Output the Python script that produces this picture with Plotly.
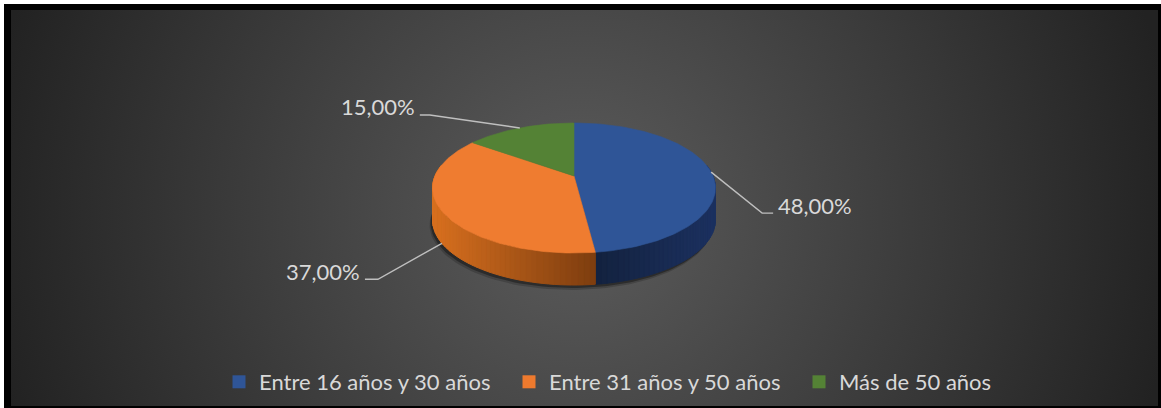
import base64
import numpy as np
import plotly.graph_objects as go

# ---------------- data ----------------
categories = ["Entre 16 años y 30 años", "Entre 31 años y 50 años", "Más de 50 años"]
values = [48.0, 37.0, 15.0]

# ---------------- style ----------------
W, H = 1161, 408
top_colors = ["#2f5597", "#ef7c30", "#548235"]
side_light = ["#13223f", "#d8701f", "#3c6025"]
side_dark = ["#1c3160", "#7d3d0f", "#2a4519"]
legend_colors = ["#2f5597", "#ee7a2e", "#548235"]
text_color = "#d9d9d9"
line_color = "#bfbfbf"
FONT = "Lato"

# pie projection (perspective-tilted disc)
CX, CY0 = 574.0, 176.0
A, B, Q = 139.0, 62.8, 0.1847
D = 32.0
# label leader geometry: (elbow dx, elbow dy, horizontal tail)
label_offsets = [(51, 41, 11), (-64, 36, -13), (-90, -13, -10)]


def proj(theta_deg, dy=0.0, dx=0.0):
    t = np.radians(np.asarray(theta_deg, dtype=float))
    u = np.sin(t)
    v = -np.cos(t)
    den = 1 - Q * v
    return CX + A * u / den + dx, CY0 + B * v / den + dy


def lerp_color(c1, c2, t):
    t = min(max(t, 0.0), 1.0)
    a = [int(c1[i:i + 2], 16) for i in (1, 3, 5)]
    b = [int(c2[i:i + 2], 16) for i in (1, 3, 5)]
    return "#" + "".join(f"{int(round(a[k] + (b[k] - a[k]) * t)):02x}" for k in range(3))


total = sum(values)
bounds = np.concatenate([[0.0], np.cumsum(values) / total * 360.0])

fig = go.Figure()

# soft shadow under the pie
full = np.linspace(0, 360, 181)
for (ox, oy, op) in [(-3, 5, 0.18), (-2, 3, 0.35)]:
    sx, sy = proj(full, dy=D + oy, dx=ox)
    fig.add_trace(go.Scatter(x=sx, y=sy, mode="lines", fill="toself",
                             fillcolor=f"rgba(0,0,0,{op})", line=dict(width=0),
                             hoverinfo="skip", showlegend=False))

# side walls (front part only)
for i in range(len(values)):
    s, e = max(bounds[i], 80.0), min(bounds[i + 1], 280.0)
    if e <= s:
        continue
    xs_all, _ = proj(np.linspace(s, e, 50))
    xL, xR = xs_all.min(), xs_all.max()
    n = int(np.ceil((e - s) / 2.0))
    edges = np.linspace(s, e, n + 1)
    for k in range(n):
        th = np.linspace(edges[k], edges[k + 1], 4)
        tx, ty = proj(th)
        bx, by = proj(th[::-1], dy=D)
        xm = float(np.mean(tx))
        t = (xm - xL) / (xR - xL)
        col = lerp_color(side_light[i], side_dark[i], t)
        fig.add_trace(go.Scatter(x=np.concatenate([tx, bx, tx[:1]]),
                                 y=np.concatenate([ty, by, ty[:1]]),
                                 mode="lines", fill="toself", fillcolor=col,
                                 line=dict(color=col, width=1),
                                 hoverinfo="skip", showlegend=False))

# top faces
for i in range(len(values)):
    th = np.linspace(bounds[i], bounds[i + 1], 120)
    tx, ty = proj(th)
    fig.add_trace(go.Scatter(x=np.concatenate([[CX], tx, [CX]]),
                             y=np.concatenate([[CY0], ty, [CY0]]),
                             mode="lines", fill="toself", fillcolor=top_colors[i],
                             line=dict(color=top_colors[i], width=0.6),
                             hoverinfo="skip", showlegend=False))

# data labels with leader lines
annotations = []
for i, v in enumerate(values):
    mid = (bounds[i] + bounds[i + 1]) / 2.0
    ax, ay = proj(mid)
    if -np.cos(np.radians(mid)) > 0:
        ay = ay + D
    edx, edy, tail = label_offsets[i]
    ex, ey = ax + edx, ay + edy
    tx = ex + tail
    fig.add_trace(go.Scatter(x=[ax, ex, tx], y=[ay, ey, ey], mode="lines",
                             line=dict(color=line_color, width=1.4),
                             hoverinfo="skip", showlegend=False))
    label = f"{v:.2f}%".replace(".", ",")
    annotations.append(dict(x=tx + (3 if tail > 0 else -3), y=ey - 8, xref="x", yref="y",
                            text=label, showarrow=False,
                            xanchor="left" if tail > 0 else "right", yanchor="middle",
                            font=dict(family=FONT, size=22, color=text_color)))

# legend entries
for i, cat in enumerate(categories):
    fig.add_trace(go.Scatter(x=[None], y=[None], mode="markers", name=cat,
                             marker=dict(symbol="square", size=13, color=legend_colors[i],
                                         line=dict(width=0))))

# background: white page, black frame, radial dark-gray gradient
svg = f'''<svg xmlns="http://www.w3.org/2000/svg" width="{W}" height="{H}" viewBox="0 0 {W} {H}" preserveAspectRatio="none">
<defs><radialGradient id="g" gradientUnits="userSpaceOnUse" cx="580" cy="215" r="600">
<stop offset="0" stop-color="#5c5c5c"/><stop offset="1" stop-color="#222222"/></radialGradient></defs>
<rect x="0" y="0" width="{W}" height="{H}" fill="#ffffff"/>
<rect x="4" y="4" width="{W - 4}" height="{H - 4}" fill="#000000"/>
<rect x="11" y="10" width="{1158 - 11}" height="{406 - 10}" fill="url(#g)"/>
</svg>'''
svg_uri = "data:image/svg+xml;base64," + base64.b64encode(svg.encode("utf-8")).decode("ascii")

fig.update_layout(
    width=W, height=H, autosize=False,
    margin=dict(l=0, r=0, t=0, b=0),
    paper_bgcolor="#ffffff", plot_bgcolor="rgba(0,0,0,0)",
    xaxis=dict(range=[0, W], visible=False, fixedrange=True),
    yaxis=dict(range=[H, 0], visible=False, fixedrange=True),
    images=[dict(source=svg_uri, xref="paper", yref="paper", x=0, y=1, sizex=1, sizey=1,
                 xanchor="left", yanchor="top", sizing="stretch", layer="below")],
    annotations=annotations,
    showlegend=True,
    legend=dict(orientation="h", x=219 / W, y=1 - 382 / H, xanchor="left", yanchor="middle",
                entrywidth=245, entrywidthmode="pixels",
                font=dict(family=FONT, size=22, color=text_color),
                bgcolor="rgba(0,0,0,0)", itemclick=False, itemdoubleclick=False),
)

fig.write_html("out.html", config={"displayModeBar": False},
               post_script="document.body.style.margin='0px';document.body.style.overflow='hidden';")
